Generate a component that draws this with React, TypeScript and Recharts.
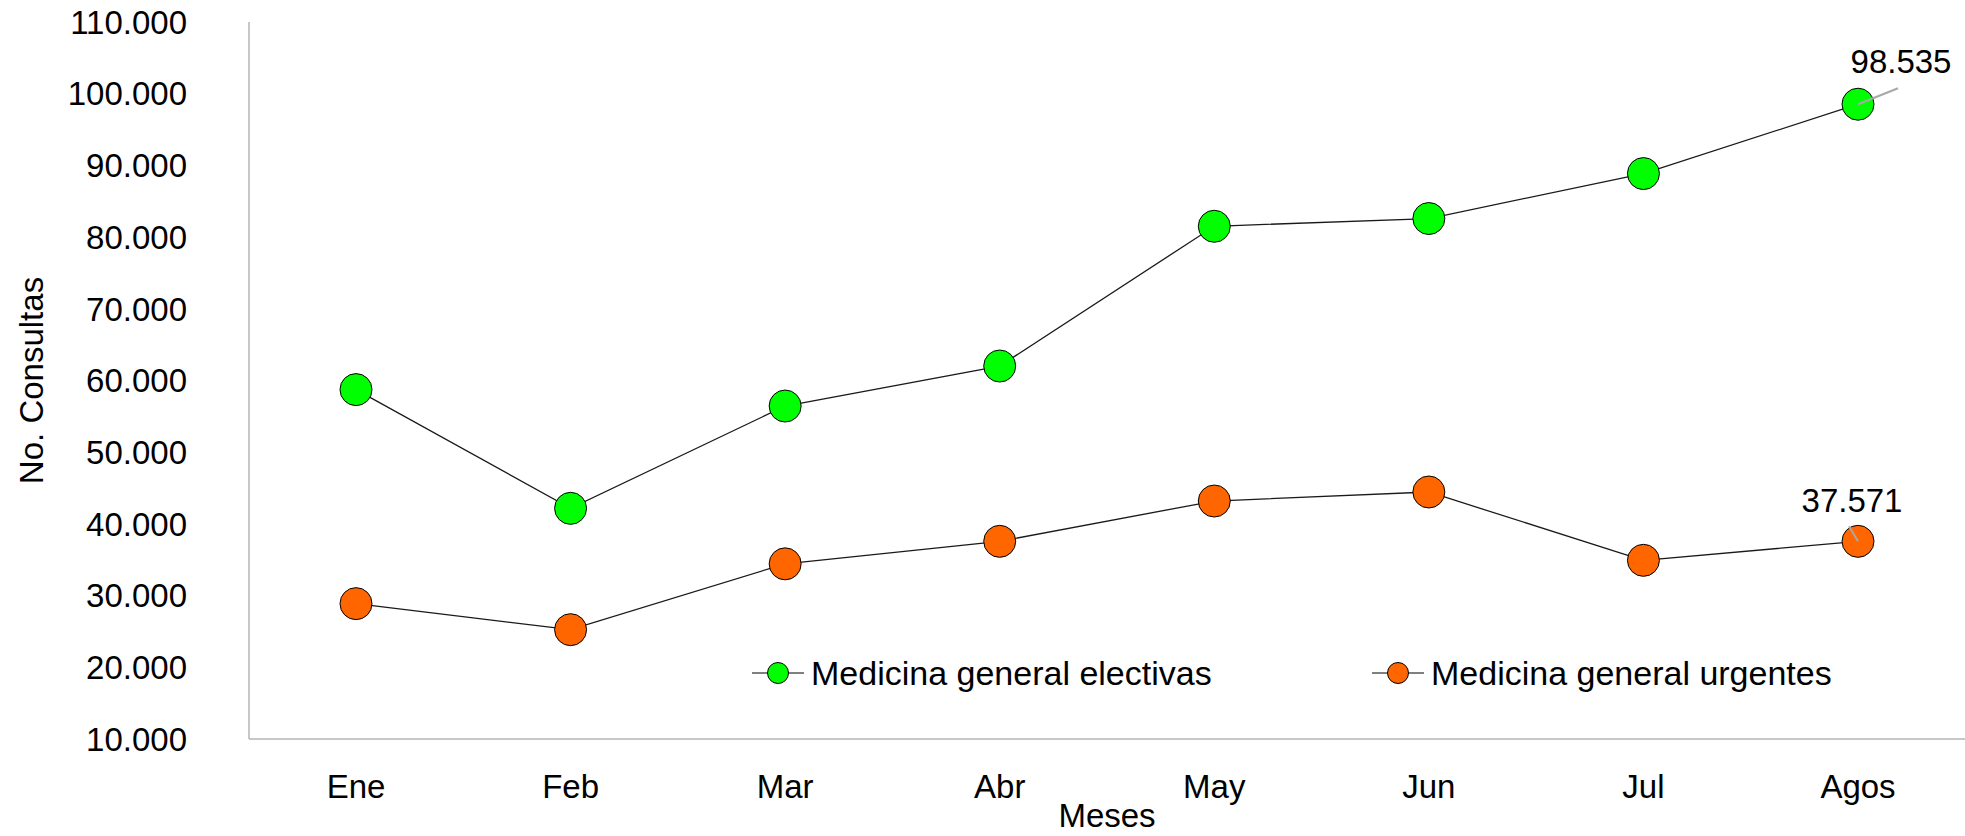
import React from 'react';
import { LineChart, Line, XAxis, YAxis, Legend, LabelList } from 'recharts';

const meses = ['Ene', 'Feb', 'Mar', 'Abr', 'May', 'Jun', 'Jul', 'Agos'];
const electivas = [58730, 42170, 56440, 62020, 81510, 82590, 88860, 98535];
const urgentes = [28880, 25250, 34430, 37570, 43190, 44450, 34920, 37571];
const yTicks = [10000, 20000, 30000, 40000, 50000, 60000, 70000, 80000, 90000, 100000, 110000];

const FONT = '"Liberation Sans", Arial, sans-serif';
const AXIS_GRAY = '#b4b4b4';

const data = meses.map((mes, i) => ({ mes, electivas: electivas[i], urgentes: urgentes[i] }));

const series = [
  { key: 'electivas', name: 'Medicina general electivas', fill: '#00ff00' },
  { key: 'urgentes', name: 'Medicina general urgentes', fill: '#ff6600' },
];

// where the end label and its leader line sit, relative to the last point
const endLabelOffset: Record<string, { tx: number; ty: number; lx: number; ly: number }> = {
  electivas: { tx: 43, ty: -31, lx: 40, ly: -16 },
  urgentes: { tx: -6, ty: -29, lx: -9, ly: -15 },
};

const fmt = (v: number) => String(Math.round(v)).replace(/\B(?=(\d{3})+(?!\d))/g, '.');

const makeEndLabel = (key: string) => (props: any) => {
  const { x, y, value, index } = props;
  if (index !== meses.length - 1) return null;
  const o = endLabelOffset[key];
  return (
    <g>
      <line x1={x} y1={y} x2={x + o.lx} y2={y + o.ly} stroke="#a8a8a8" strokeWidth={2} />
      <text x={x + o.tx} y={y + o.ty} textAnchor="middle" fontFamily={FONT} fontSize={33} fill="#000">
        {fmt(value)}
      </text>
    </g>
  );
};

const renderLegend = () => (
  <div style={{ display: 'flex', fontFamily: FONT, fontSize: 34, color: '#000', lineHeight: '40px' }}>
    {series.map((s, i) => (
      <div key={s.key} style={{ display: 'flex', alignItems: 'center', width: i === 0 ? 620 : 'auto' }}>
        <svg width={52} height={24}>
          <line x1={0} y1={12} x2={52} y2={12} stroke="#000" strokeWidth={1} />
          <circle cx={26} cy={12} r={10.5} fill={s.fill} stroke="#000" strokeWidth={1} />
        </svg>
        <span style={{ marginLeft: 7, whiteSpace: 'nowrap' }}>{s.name}</span>
      </div>
    ))}
  </div>
);

export default function App() {
  return (
    <div style={{ position: 'absolute', left: 0, top: 0, background: '#fff' }}>
      <LineChart width={1965} height={836} data={data} margin={{ top: 22, right: 0, bottom: 0, left: 0 }}>
        <XAxis
          dataKey="mes"
          height={97}
          padding={{ left: 107, right: 107 }}
          axisLine={{ stroke: AXIS_GRAY, strokeWidth: 1.5 }}
          tickLine={false}
          tickSize={0}
          tickMargin={36}
          tick={{ fontFamily: FONT, fontSize: 33, fill: '#000' }}
          label={{ value: 'Meses', position: 'insideBottom', offset: 9, style: { fontFamily: FONT, fontSize: 33, fill: '#000' } }}
        />
        <YAxis
          width={249}
          domain={[10000, 110000]}
          ticks={yTicks}
          allowDataOverflow
          axisLine={{ stroke: AXIS_GRAY, strokeWidth: 1.5 }}
          tickLine={false}
          tickSize={0}
          tickMargin={62}
          tickFormatter={fmt}
          tick={{ fontFamily: FONT, fontSize: 33, fill: '#000' }}
          label={{
            value: 'No. Consultas',
            angle: -90,
            position: 'insideLeft',
            offset: 31,
            style: { textAnchor: 'middle', fontFamily: FONT, fontSize: 33, fill: '#000' },
          }}
        />
        <Legend
          layout="horizontal"
          verticalAlign="middle"
          align="center"
          content={renderLegend}
          wrapperStyle={{ left: 752, top: 653, width: 1200, height: 40 }}
        />
        {series.map((s) => (
          <Line
            key={s.key}
            dataKey={s.key}
            name={s.name}
            type="linear"
            stroke="#1a1a1a"
            strokeWidth={1.3}
            dot={{ r: 16, fill: s.fill, stroke: '#000', strokeWidth: 1 }}
            activeDot={false}
            isAnimationActive={false}
          >
            <LabelList dataKey={s.key} content={makeEndLabel(s.key)} />
          </Line>
        ))}
      </LineChart>
    </div>
  );
}
